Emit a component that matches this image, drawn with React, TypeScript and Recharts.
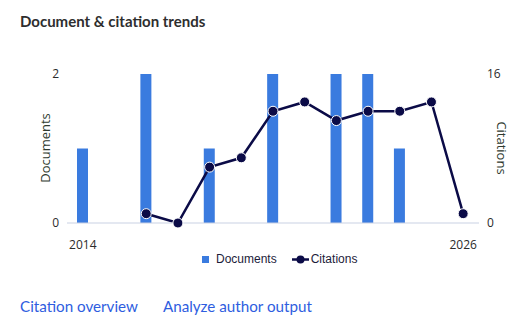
import React from "react";
import { Bar, ComposedChart, Label, Legend, Line, XAxis, YAxis } from "recharts";

const years = ["2014", "2015", "2016", "2017", "2018", "2019", "2020", "2021", "2022", "2023", "2024", "2025", "2026"];
const documents = [1, 0, 2, 0, 1, 0, 2, 0, 2, 2, 1, 0, 0];
const citations = [null, null, 1, 0, 6, 7, 12, 13, 11, 12, 12, 13, 1];
const documentTicks = [0, 2];
const citationTicks = [0, 16];
const legendOrder = ["Documents", "Citations"];

const BAR_BLUE = "#3a7bdf";
const NAVY = "#0b0b47";
const TEXT = "#2b2b2b";

const data = years.map((year, i) => ({
  year,
  Documents: documents[i],
  Citations: citations[i],
}));

function LegendContent({ payload }: { payload?: Array<{ value: string }> }) {
  const items = [...(payload ?? [])].sort(
    (a, b) => legendOrder.indexOf(a.value) - legendOrder.indexOf(b.value),
  );
  return (
    <div
      style={{
        display: "flex",
        alignItems: "center",
        fontFamily: '"Liberation Sans", Arial, sans-serif',
        fontSize: 12,
        color: "#1c1c3a",
      }}
    >
      {items.map((entry) => (
        <span key={entry.value} style={{ display: "flex", alignItems: "center", marginRight: 15 }}>
          {entry.value === "Documents" ? (
            <svg width={7} height={7} style={{ marginRight: 7 }}>
              <rect width={7} height={7} fill={BAR_BLUE} />
            </svg>
          ) : (
            <svg width={17} height={9} style={{ marginRight: 2 }}>
              <line x1={0} y1={4.5} x2={17} y2={4.5} stroke={NAVY} strokeWidth={2.5} />
              <circle cx={8.5} cy={4.5} r={4} fill={NAVY} />
            </svg>
          )}
          {entry.value}
        </span>
      ))}
    </div>
  );
}

export default function App() {
  return (
    <div
      style={{
        position: "absolute",
        top: 0,
        left: 0,
        width: 526,
        height: 334,
        background: "#fff",
        fontFamily: "Lato, sans-serif",
      }}
    >
      <div
        style={{
          position: "absolute",
          left: 20,
          top: 12,
          fontSize: 15,
          fontWeight: 700,
          color: "#2e2e2e",
        }}
      >
        Document &amp; citation trends
      </div>

      <div style={{ position: "absolute", top: 0, left: 0 }}>
        <ComposedChart
          width={526}
          height={280}
          data={data}
          margin={{ top: 74, right: 0, bottom: 27, left: 0 }}
          barSize={11}
        >
          <XAxis
            dataKey="year"
            interval={11}
            height={30}
            tickLine={false}
            axisLine={{ stroke: "#c9d1e3" }}
            tickMargin={11}
            tick={{ fontSize: 12, fill: TEXT, fontFamily: '"Open Sans", sans-serif' }}
          />
          <YAxis
            yAxisId="left"
            width={67}
            domain={[0, 2]}
            ticks={documentTicks}
            axisLine={false}
            tickLine={false}
            tick={{ fontSize: 12, fill: TEXT, fontFamily: '"Open Sans", sans-serif' }}
          >
            <Label
              content={() => (
                <text
                  x={45}
                  y={148}
                  transform="rotate(-90 45 148)"
                  textAnchor="middle"
                  dominantBaseline="central"
                  fontSize={13}
                  fill="#2f3a2f"
                  fontFamily='"Open Sans", sans-serif'
                >
                  Documents
                </text>
              )}
            />
          </YAxis>
          <YAxis
            yAxisId="right"
            orientation="right"
            width={47}
            domain={[0, 16]}
            ticks={citationTicks}
            axisLine={false}
            tickLine={false}
            tick={{ fontSize: 12, fill: TEXT, fontFamily: '"Open Sans", sans-serif' }}
          >
            <Label
              content={() => (
                <text
                  x={502}
                  y={148}
                  transform="rotate(90 502 148)"
                  textAnchor="middle"
                  dominantBaseline="central"
                  fontSize={13}
                  fill="#2f3a2f"
                  fontFamily='"Open Sans", sans-serif'
                >
                  Citations
                </text>
              )}
            />
          </YAxis>
          <Legend
            verticalAlign="middle"
            align="center"
            wrapperStyle={{ top: 252, left: 202, width: 250, height: 18 }}
            content={<LegendContent />}
          />
          <Bar yAxisId="left" dataKey="Documents" fill={BAR_BLUE} isAnimationActive={false} />
          <Line
            yAxisId="right"
            dataKey="Citations"
            stroke={NAVY}
            strokeWidth={2.5}
            dot={{ r: 5, fill: NAVY, stroke: "#fff", strokeWidth: 1 }}
            activeDot={false}
            isAnimationActive={false}
          />
        </ComposedChart>
      </div>

      <div
        style={{
          position: "absolute",
          left: 20,
          top: 297,
          fontSize: 15.2,
          color: "#2e5de0",
          whiteSpace: "nowrap",
        }}
      >
        <span>Citation overview</span>
        <span style={{ marginLeft: 25 }}>Analyze author output</span>
      </div>
    </div>
  );
}
